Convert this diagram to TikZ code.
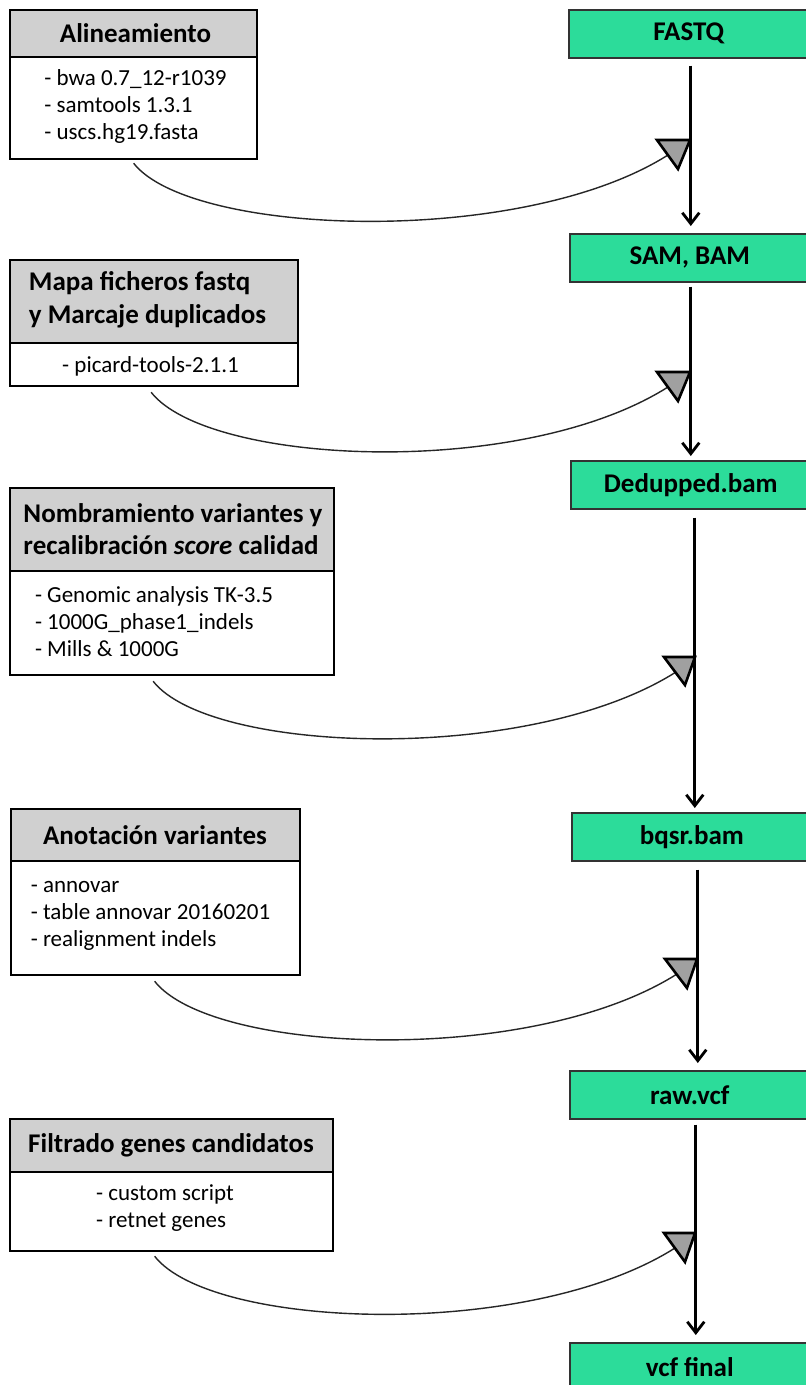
\documentclass[tikz,border=0pt]{standalone}
\usepackage{fontspec}
\setmainfont{Carlito}
\usetikzlibrary{arrows.meta,calc}
\definecolor{fileGreen}{RGB}{44,220,154}
\definecolor{toolGray}{RGB}{208,208,208}
\definecolor{tipGray}{RGB}{160,160,160}

\begin{document}
\begin{tikzpicture}[x=1pt,y=-1pt,
  headbox/.style={draw=black,line width=2.2pt,fill=toolGray,anchor=north west,inner sep=0pt},
  bodybox/.style={draw=black,line width=2.2pt,fill=white,anchor=north west,inner sep=0pt},
  headtext/.style={font=\fontsize{27}{32.5}\selectfont\bfseries,align=left,inner sep=0pt},
  bodytext/.style={font=\fontsize{23}{27}\selectfont,align=left,inner sep=0pt},
  filebox/.style={draw=black!80,line width=1.6pt,fill=fileGreen,minimum width=240pt,
    minimum height=48pt,anchor=north west,inner sep=0pt,font=\fontsize{27}{32}\selectfont\bfseries},
  flow/.style={line width=2.8pt,-{Straight Barb[length=11pt,width=17pt,line width=2.8pt]}},
  usage/.style={line width=1.4pt,draw=black!85},
  marker/.style={draw=black,line width=2.6pt,fill=tipGray,line join=miter}
]
\useasboundingbox (0,0) rectangle (806,1385);
\clip (0,0) rectangle (806,1385);
\fill[white] (0,0) rectangle (806,1385);

% ---- tool boxes (left column) ----
\node[bodybox,minimum width=247pt,minimum height=102pt] (b1) at (9,56) {};
\node[headbox,minimum width=247pt,minimum height=47pt] (h1) at (9,9) {};
\node[headtext] (h1t) at (135.5,33) {Alineamiento};
\node[bodytext] (b1t) at (135.5,106) {- bwa 0.7\_12-r1039\\- samtools 1.3.1\\- uscs.hg19.fasta};

\node[bodybox,minimum width=288pt,minimum height=43pt] (b2) at (9,342) {};
\node[headbox,minimum width=288pt,minimum height=83pt] (h2) at (9,259) {};
\node[headtext] (h2t) at (147.5,300) {Mapa ficheros fastq\\y Marcaje duplicados};
\node[bodytext] (b2t) at (150.5,366) {- picard-tools-2.1.1};

\node[bodybox,minimum width=324pt,minimum height=104pt] (b3) at (9,570) {};
\node[headbox,minimum width=324pt,minimum height=83pt] (h3) at (9,487) {};
\node[headtext] (h3t) at (173,529) {Nombramiento variantes y\\recalibración \textit{score} calidad};
\node[bodytext] (b3t) at (154,622) {- Genomic analysis TK-3.5\\- 1000G\_phase1\_indels\\- Mills \& 1000G};

\node[bodybox,minimum width=289pt,minimum height=114pt] (b4) at (10,860) {};
\node[headbox,minimum width=289pt,minimum height=52pt] (h4) at (10,808) {};
\node[headtext] (h4t) at (155,835) {Anotación variantes};
\node[bodytext] (b4t) at (150.5,916) {- annovar\\- table annovar 20160201\\- realignment indels};

\node[bodybox,minimum width=323pt,minimum height=79pt] (b5) at (9,1171) {};
\node[headbox,minimum width=323pt,minimum height=53pt] (h5) at (9,1118) {};
\node[headtext] (h5t) at (171,1145) {Filtrado genes candidatos};
\node[bodytext] (b5t) at (165,1208.5) {- custom script\\- retnet genes};

% ---- file boxes (right column) ----
\node[filebox] (fastq) at (568,9) {FASTQ};
\node[filebox] (sam) at (569,233) {SAM, BAM};
\node[filebox] (dedup) at (570,460) {Dedupped.bam};
\node[filebox] (bqsr) at (571,812) {bqsr.bam};
\node[filebox] (raw) at (569,1070) {raw.vcf};
\node[filebox] (vcffinal) at (569,1342) {vcf final};

% ---- pipeline arrows ----
\draw[flow] ([xshift=2pt,yshift=-7pt]fastq.south) -- ([xshift=1pt,yshift=7pt]sam.north);
\draw[flow] ([xshift=1pt,yshift=-4pt]sam.south) -- ([xshift=0pt,yshift=4pt]dedup.north);
\draw[flow] ([xshift=4pt,yshift=-8pt]dedup.south) -- ([xshift=3pt,yshift=4pt]bqsr.north);
\draw[flow] ([xshift=6pt,yshift=-8pt]bqsr.south) -- ([xshift=8pt,yshift=7pt]raw.north);
\draw[flow] ([xshift=6pt,yshift=-5pt]raw.south) -- ([xshift=6pt,yshift=7pt]vcffinal.north);

% ---- tool usage curves ----
\coordinate (u1) at (668,155);
\coordinate (u2) at (668,387);
\coordinate (u3) at (676,672);
\coordinate (u4) at (677,974);
\coordinate (u5) at (675,1248);
\draw[usage] ([xshift=0pt,yshift=-3pt]b1.south) .. controls +(57,73) and +(-147,93) .. (u1);
\draw[usage] ([xshift=-3pt,yshift=-5pt]b2.south) .. controls +(57,73) and +(-147,93) .. (u2);
\draw[usage] ([xshift=-19pt,yshift=-5pt]b3.south) .. controls +(57,73) and +(-147,93) .. (u3);
\draw[usage] ([xshift=-1pt,yshift=-5pt]b4.south) .. controls +(57,73) and +(-147,93) .. (u4);
\draw[usage] ([xshift=-17pt,yshift=-4pt]b5.south) .. controls +(57,73) and +(-147,93) .. (u5);

% ---- markers where the tools feed the pipeline ----
\draw[marker] (657,140) -- (690,140) -- (678,169) -- cycle;
\draw[marker] (657,372) -- (690,372) -- (678,401) -- cycle;
\draw[marker] (664,657) -- (695,657) -- (685,685) -- cycle;
\draw[marker] (665,959) -- (697,959) -- (687,988) -- cycle;
\draw[marker] (664,1233) -- (695,1233) -- (685,1262) -- cycle;
\end{tikzpicture}
\end{document}
